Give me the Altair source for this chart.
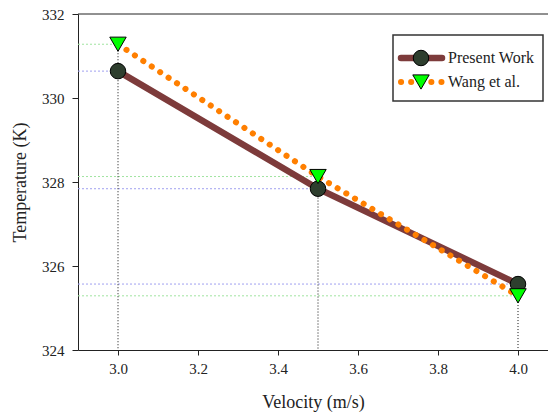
import altair as alt
import pandas as pd

# ---- data ----
velocity = [3.0, 3.5, 4.0]
present_work = [330.64, 327.84, 325.57]
wang_et_al = [331.28, 328.13, 325.29]
series_names = ["Present Work", "Wang et al."]
x_ticks = [3.0, 3.2, 3.4, 3.6, 3.8, 4.0]
y_ticks = [324, 326, 328, 330, 332]
x_title = "Velocity (m/s)"
y_title = "Temperature (K)"

X_MIN, X_MAX = 2.9, 4.075

present_df = pd.DataFrame({"v": velocity, "t": present_work, "s": series_names[0], "x0": X_MIN})
wang_df = pd.DataFrame({"v": velocity, "t": wang_et_al, "s": series_names[1], "x0": X_MIN})
top_df = pd.DataFrame({"v": velocity,
                       "top": [max(a, b) for a, b in zip(present_work, wang_et_al)],
                       "bottom": y_ticks[0]})
frame_df = pd.DataFrame({"ytop": [y_ticks[-1]]})

FONT = "'Liberation Serif', 'Times New Roman', 'DejaVu Serif', serif"
INK = "#222222"
MAROON = "#7d3b3b"
ORANGE = "#ff7f00"
CIRCLE_FILL = "#2e3e2e"
TRI_FILL = "#00ff00"

W, H = 470, 336
PAD_L, PAD_T = 78, 14

x_scale = alt.Scale(domain=[X_MIN, X_MAX], nice=False, zero=False)
y_scale = alt.Scale(domain=[y_ticks[0], y_ticks[-1]], nice=False, zero=False)

x_axis = alt.Axis(values=x_ticks, format=".1f", title=x_title, grid=False,
                  domainColor=INK, tickColor=INK, tickSize=5, labelPadding=6,
                  titlePadding=17, labelFontSize=15, titleFontSize=18,
                  labelFont=FONT, titleFont=FONT, labelColor=INK, titleColor=INK,
                  titleFontWeight="normal")
y_axis = alt.Axis(values=y_ticks, format="d", title=y_title, grid=False,
                  domainColor=INK, tickColor=INK, tickSize=6, labelPadding=8,
                  titlePadding=12, labelFontSize=15, titleFontSize=18,
                  labelFont=FONT, titleFont=FONT, labelColor=INK, titleColor=INK,
                  titleFontWeight="normal")

def X(field):
    return alt.X(field, scale=x_scale, axis=x_axis)

def Y(field):
    return alt.Y(field, scale=y_scale, axis=y_axis)

# horizontal dotted reference lines from y axis to each point
href_p = alt.Chart(present_df).mark_rule(color="#a0a0f0", strokeDash=[2, 2], strokeWidth=1).encode(
    x=X("x0:Q"), x2="v:Q", y=Y("t:Q"))
href_w = alt.Chart(wang_df).mark_rule(color="#a0e4a0", strokeDash=[2, 2], strokeWidth=1).encode(
    x=X("x0:Q"), x2="v:Q", y=Y("t:Q"))

# vertical dotted drop lines
vref = alt.Chart(top_df).mark_rule(color="#111111", strokeDash=[1, 2], strokeWidth=1).encode(
    x=X("v:Q"), y=Y("top:Q"), y2="bottom:Q")

# top frame line
frame_top = alt.Chart(frame_df).mark_rule(color=INK, strokeWidth=1).encode(y=Y("ytop:Q"))

line_p = alt.Chart(present_df).mark_line(color=MAROON, strokeWidth=6.5, strokeCap="round").encode(
    x=X("v:Q"), y=Y("t:Q"))
line_w = alt.Chart(wang_df).mark_line(color=ORANGE, strokeWidth=6, strokeCap="round",
                                      strokeDash=[0.1, 10]).encode(
    x=X("v:Q"), y=Y("t:Q"))
pts_p = alt.Chart(present_df).mark_point(shape="circle", filled=True, fill=CIRCLE_FILL,
                                         stroke="black", strokeWidth=1, size=240, opacity=1).encode(
    x=X("v:Q"), y=Y("t:Q"))
pts_w = alt.Chart(wang_df).mark_point(shape="triangle-down", filled=True, fill=TRI_FILL,
                                      stroke="black", strokeWidth=1, size=270, opacity=1).encode(
    x=X("v:Q"), y=Y("t:Q"))

# ---- legend (drawn in pixel space of the plot area) ----
lx0, lx1, ly0, ly1 = 393 - PAD_L, 543 - PAD_L, 35 - PAD_T, 101 - PAD_T
row1, row2 = 58 - PAD_T, 82 - PAD_T
sx0, sx1, sxc, tx = 401 - PAD_L, 442 - PAD_L, 421 - PAD_L, 448 - PAD_L

leg_df1 = pd.DataFrame({"s": [series_names[0]]})
leg_df2 = pd.DataFrame({"s": [series_names[1]]})

leg_box = alt.Chart(leg_df1).mark_rect(fill="white", stroke="#333333", strokeWidth=1.5).encode(
    x=alt.value(lx0), x2=alt.value(lx1), y=alt.value(ly0), y2=alt.value(ly1))
leg_l1 = alt.Chart(leg_df1).mark_rule(color=MAROON, strokeWidth=6.5, strokeCap="round").encode(
    x=alt.value(sx0), x2=alt.value(sx1), y=alt.value(row1))
leg_p1 = alt.Chart(leg_df1).mark_point(shape="circle", filled=True, fill=CIRCLE_FILL,
                                       stroke="black", strokeWidth=1, size=240, opacity=1).encode(
    x=alt.value(sxc), y=alt.value(row1))
leg_l2 = alt.Chart(leg_df2).mark_rule(color=ORANGE, strokeWidth=6, strokeCap="round",
                                      strokeDash=[0.1, 10]).encode(
    x=alt.value(sx0), x2=alt.value(sx1), y=alt.value(row2))
leg_p2 = alt.Chart(leg_df2).mark_point(shape="triangle-down", filled=True, fill=TRI_FILL,
                                       stroke="black", strokeWidth=1, size=270, opacity=1).encode(
    x=alt.value(sxc), y=alt.value(row2))
leg_t1 = alt.Chart(leg_df1).mark_text(align="left", baseline="middle", font=FONT, fontSize=16,
                                      color=INK).encode(
    x=alt.value(tx), y=alt.value(row1), text="s:N")
leg_t2 = alt.Chart(leg_df2).mark_text(align="left", baseline="middle", font=FONT, fontSize=16,
                                      color=INK).encode(
    x=alt.value(tx), y=alt.value(row2), text="s:N")

chart = alt.layer(
    href_p, href_w, vref, frame_top,
    line_p, line_w, pts_p, pts_w,
    leg_box, leg_l1, leg_p1, leg_l2, leg_p2, leg_t1, leg_t2,
).properties(
    width=W, height=H,
    padding={"left": PAD_L, "top": PAD_T, "right": 0, "bottom": 416 - PAD_T - H},
    autosize=alt.AutoSizeParams(type="none"),
    background="white",
).configure_view(stroke=None)

chart.save("out.html", embed_options={"renderer": "svg", "actions": False})
